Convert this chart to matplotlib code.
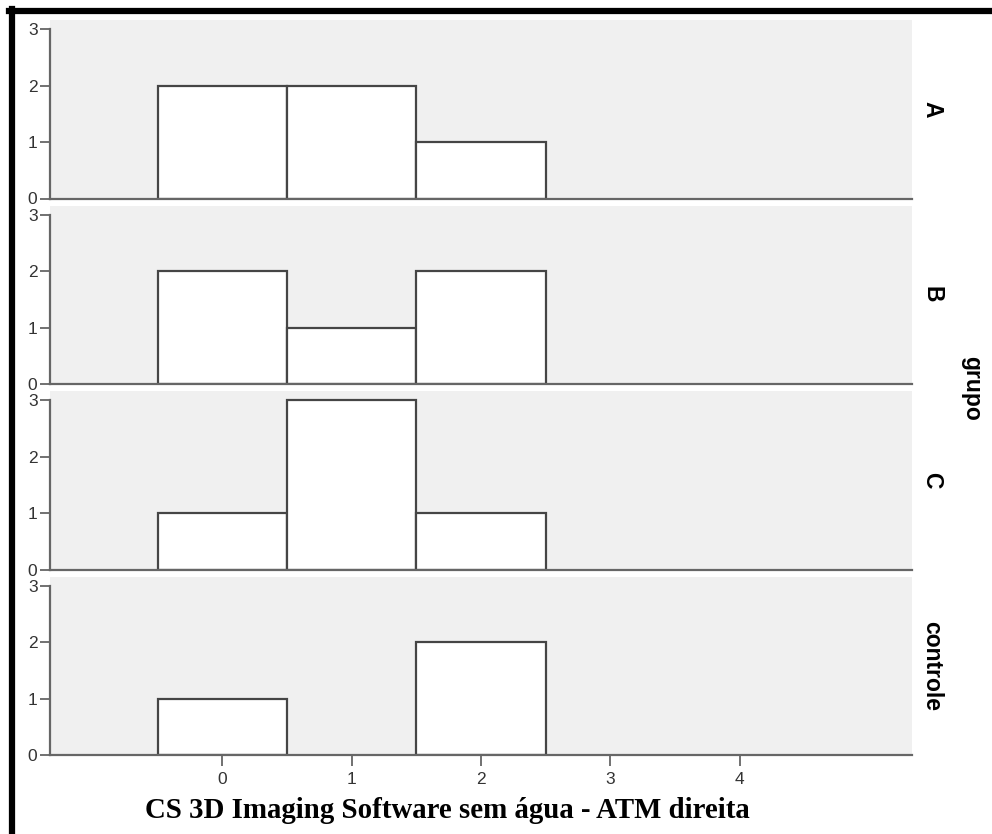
import numpy as np
import matplotlib
matplotlib.use("Agg")
import matplotlib.pyplot as plt
from matplotlib.lines import Line2D

plt.rcParams["font.family"] = ["Liberation Sans", "DejaVu Sans"]

# Data
groups = ["A", "B", "C", "controle"]
bins = [0, 1, 2, 3, 4]
counts_A = [2, 2, 1, 0, 0]
counts_B = [2, 1, 2, 0, 0]
counts_C = [1, 3, 1, 0, 0]
counts_controle = [1, 0, 2, 0, 0]
all_counts = [counts_A, counts_B, counts_C, counts_controle]
yticks = [0, 1, 2, 3]
title = "CS 3D Imaging Software sem água - ATM direita"

W, H = 992, 834
fig = plt.figure(figsize=(W / 100, H / 100), dpi=100)
fig.patch.set_facecolor("white")

left = 50 / W
width = (912 - 50) / W
top_px = 20
panel_h = 178.5
gap = 7

spine_col = "#666666"
for i, (g, counts) in enumerate(zip(groups, all_counts)):
    top = top_px + i * (panel_h + gap)
    bottom = 1 - (top + panel_h) / H
    ax = fig.add_axes([left, bottom, width, panel_h / H])
    ax.set_facecolor("#f0f0f0")
    # empty bins are not drawn
    xs = [b for b, c in zip(bins, counts) if c > 0]
    hs = [c for c in counts if c > 0]
    ax.bar(xs, hs, width=1.0, color="white", edgecolor="#454545",
           linewidth=1.6, zorder=3)
    ax.set_xlim(-1.333, 5.333)
    ax.set_ylim(0, 3.16)
    ax.set_yticks(yticks)
    for s in ["top", "right"]:
        ax.spines[s].set_visible(False)
    for s in ["left", "bottom"]:
        ax.spines[s].set_color(spine_col)
        ax.spines[s].set_linewidth(1.6)
        ax.spines[s].set_zorder(4)
    ax.spines["left"].set_bounds(0, 3)
    ax.tick_params(axis="y", direction="out", length=7, width=1.3,
                   color=spine_col, labelsize=12.5, labelcolor="#333333", pad=2)
    if i == len(groups) - 1:
        ax.set_xticks(bins)
        ax.tick_params(axis="x", direction="out", length=8, width=1.3,
                       color=spine_col, labelsize=12.5, labelcolor="#333333", pad=4)
    else:
        ax.set_xticks([])
    ax.text(1.023, 0.5, g, transform=ax.transAxes, rotation=-90,
            ha="center", va="center", fontsize=16.5, fontweight="bold")

fig.text(972 / W, 1 - 388 / H, "grupo", rotation=-90, ha="center", va="center",
         fontsize=16.5, fontweight="bold")
fig.text(447 / W, 1 - 810 / H, title, ha="center", va="center",
         fontsize=20.8, fontweight="bold", family="Liberation Serif")

# frame lines on top and left edges
fig.add_artist(Line2D([9 / W, 1], [1 - 11 / H, 1 - 11 / H], color="black",
                      linewidth=4.5, transform=fig.transFigure))
fig.add_artist(Line2D([11.5 / W, 11.5 / W], [0, 1 - 9 / H], color="black",
                      linewidth=4.5, transform=fig.transFigure))

fig.savefig("out.png", dpi=100)
